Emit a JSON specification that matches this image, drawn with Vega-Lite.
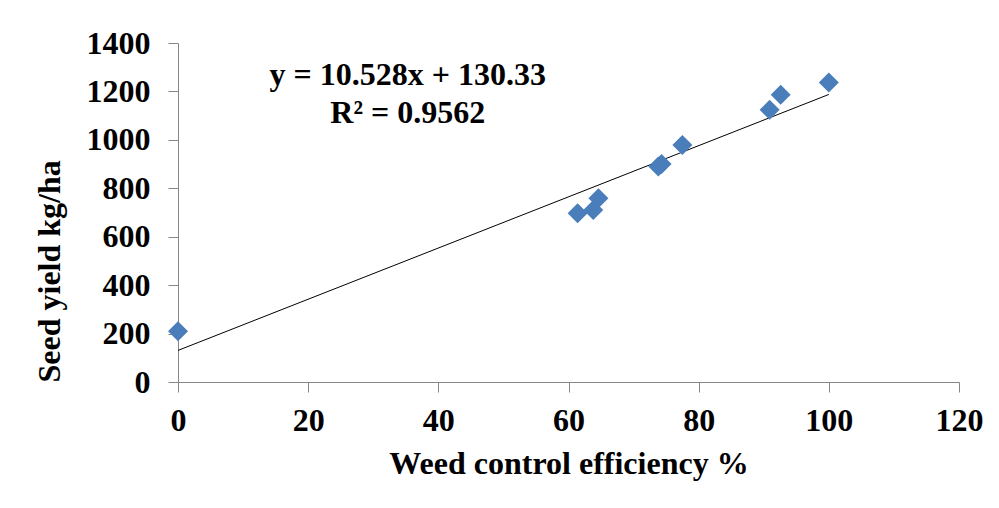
{
  "$schema": "https://vega.github.io/schema/vega-lite/v6.json",
  "width": 781,
  "height": 339,
  "autosize": {"type": "none"},
  "padding": {"left": 178, "top": 43, "right": 40, "bottom": 126},
  "background": "white",
  "config": {
    "view": {"stroke": null},
    "font": "Liberation Serif",
    "axis": {
      "domainColor": "#868686",
      "tickColor": "#868686",
      "grid": false,
      "labelFont": "Liberation Serif",
      "labelFontWeight": "bold",
      "labelFontSize": 32,
      "labelColor": "black",
      "labelFlush": false,
      "labelOverlap": false,
      "titleFont": "Liberation Serif",
      "titleFontWeight": "bold",
      "titleFontSize": 32,
      "titleColor": "black",
      "tickSize": 10,
      "format": "d"
    }
  },
  "datasets": {
    "points": [
      {"wce": 0, "yield": 210},
      {"wce": 61.4, "yield": 697},
      {"wce": 63.8, "yield": 710},
      {"wce": 64.6, "yield": 759},
      {"wce": 73.8, "yield": 890},
      {"wce": 74.3, "yield": 900},
      {"wce": 77.5, "yield": 979},
      {"wce": 90.9, "yield": 1124},
      {"wce": 92.6, "yield": 1186},
      {"wce": 100, "yield": 1237}
    ],
    "equation": [
      {"label": "y = 10.528x + 130.33\nR² = 0.9562"}
    ]
  },
  "layer": [
    {
      "data": {"name": "points"},
      "transform": [{"regression": "yield", "on": "wce", "method": "linear"}],
      "mark": {"type": "line", "color": "black", "strokeWidth": 1},
      "encoding": {
        "x": {"field": "wce", "type": "quantitative"},
        "y": {"field": "yield", "type": "quantitative"}
      }
    },
    {
      "data": {"name": "points"},
      "mark": {"type": "point", "shape": "diamond", "filled": true, "size": 400, "color": "#4A7EBB", "opacity": 1},
      "encoding": {
        "x": {
          "field": "wce", "type": "quantitative",
          "scale": {"domain": [0, 120], "nice": false, "zero": false},
          "axis": {"values": [0, 20, 40, 60, 80, 100, 120], "title": "Weed control efficiency %", "labelPadding": 13, "titlePadding": 12}
        },
        "y": {
          "field": "yield", "type": "quantitative",
          "scale": {"domain": [0, 1400], "nice": false},
          "axis": {"values": [0, 200, 400, 600, 800, 1000, 1200, 1400], "title": "Seed yield kg/ha", "labelPadding": 18, "titleAnchor": "start", "titlePadding": 20}
        }
      }
    },
    {
      "data": {"name": "equation"},
      "mark": {"type": "text", "font": "Liberation Serif", "fontWeight": "bold", "fontSize": 32, "lineBreak": "\n", "lineHeight": 38, "align": "center", "baseline": "top", "color": "black"},
      "encoding": {
        "x": {"datum": 35.3, "type": "quantitative"},
        "y": {"datum": 1330, "type": "quantitative"},
        "text": {"field": "label"}
      }
    }
  ]
}
